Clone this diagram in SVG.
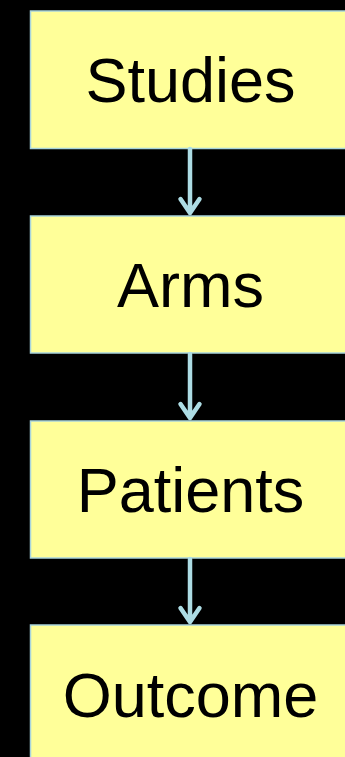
<svg xmlns="http://www.w3.org/2000/svg" width="345" height="757" viewBox="0 0 345 757">
<defs>
<style>
.box{fill:#FFFF99;stroke:#A8D4DC;stroke-width:1.5}
.lbl{font-family:"Liberation Sans",Arial,sans-serif;font-size:63px;fill:#000;text-anchor:middle}
.arr{stroke:#ADDCE4;stroke-width:4.5;fill:none;stroke-linecap:round;stroke-linejoin:round}
</style>
</defs>
<rect width="345" height="757" fill="#000"/>
<g id="studies"><rect class="box" x="30.5" y="11" width="330" height="137.5"/><text class="lbl" x="190.5" y="102">Studies</text></g>
<g id="arms"><rect class="box" x="30.5" y="216" width="330" height="137"/><text class="lbl" x="190.5" y="307">Arms</text></g>
<g id="patients"><rect class="box" x="30.5" y="421" width="330" height="137"/><text class="lbl" x="190.5" y="512">Patients</text></g>
<g id="outcome"><rect class="box" x="30.5" y="625" width="330" height="150"/><text class="lbl" x="190.5" y="717">Outcome</text></g>
<g id="connectors">
<path class="arr" d="M190 149V213M180.5 199L190 213L199.5 199"/>
<path class="arr" d="M190 354V418M180.5 404L190 418L199.5 404"/>
<path class="arr" d="M190 559V622M180.5 608L190 622L199.5 608"/>
</g>
</svg>
